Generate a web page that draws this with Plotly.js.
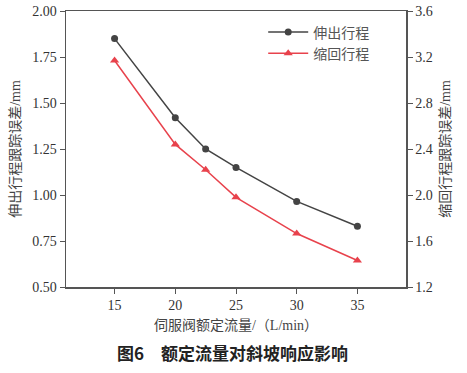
<!DOCTYPE html>
<html><head><meta charset="utf-8">
<script src="https://cdn.plot.ly/plotly-3.0.1.min.js"></script>
<style>body{margin:0;background:#fff}#c{width:467px;height:373px}</style>
</head><body><div id="c"></div>
<script>
const flow = [15, 20, 22.5, 25, 30, 35];
const extendErr = [1.85, 1.42, 1.25, 1.15, 0.965, 0.83];
const retractErr = [3.17, 2.44, 2.22, 1.98, 1.665, 1.43];
const xTicks = [15, 20, 25, 30, 35];
const serif = '"Liberation Serif", "Times New Roman", "Noto Sans CJK SC", serif';
const cjk = '"Liberation Serif", "Noto Sans CJK SC", serif';
const axCol = '#555';
const data = [
  {x: flow, y: extendErr, name: '伸出行程', type: 'scatter', mode: 'lines+markers',
   line: {color: '#444444', width: 1.5}, marker: {symbol: 'circle', size: 7, color: '#444444'}, yaxis: 'y'},
  {x: flow, y: retractErr, name: '缩回行程', type: 'scatter', mode: 'lines+markers',
   line: {color: '#e8424c', width: 1.5}, marker: {symbol: 'triangle-up', size: 8, color: '#e8424c'}, yaxis: 'y2'}
];
const layout = {
  width: 467, height: 373,
  margin: {l: 66, r: 61, t: 11, b: 86},
  paper_bgcolor: '#fff', plot_bgcolor: '#fff',
  showlegend: true,
  legend: {x: 0.58, y: 0.98, xanchor: 'left', yanchor: 'top', bgcolor: 'rgba(0,0,0,0)', itemwidth: 40,
           font: {family: '"Noto Sans CJK SC", sans-serif', size: 14, color: '#555'}, tracegroupgap: 2},
  xaxis: {range: [11, 39], tickvals: xTicks, ticks: 'outside', ticklen: 5, tickcolor: axCol,
          showline: true, linecolor: axCol, linewidth: 1.5, mirror: true, showgrid: false, zeroline: false,
          tickfont: {family: serif, size: 14, color: '#333'},
          title: {text: '伺服阀额定流量/（L/min）', font: {family: cjk, size: 14, color: '#444'}, standoff: 8}},
  yaxis: {range: [0.5, 2.0], dtick: 0.25, tickformat: '.2f', ticks: 'outside', ticklen: 5, tickcolor: axCol,
          showline: true, linecolor: axCol, linewidth: 1.5, showgrid: false, zeroline: false,
          tickfont: {family: serif, size: 14, color: '#333'},
          title: {text: '伸出行程跟踪误差/mm', font: {family: cjk, size: 14, color: '#444'}, standoff: 8}},
  yaxis2: {range: [1.2, 3.6], dtick: 0.4, tickformat: '.1f', overlaying: 'y', side: 'right',
           ticks: 'outside', ticklen: 5, tickcolor: axCol,
           showline: true, linecolor: axCol, linewidth: 1.5, showgrid: false, zeroline: false,
           tickfont: {family: serif, size: 14, color: '#333'},
           title: {text: '缩回行程跟踪误差/mm', font: {family: cjk, size: 14, color: '#444'}, standoff: 8}},
  annotations: [{text: '<b>图6　额定流量对斜坡响应影响</b>', xref: 'paper', yref: 'paper',
                 x: 0.49, y: -0.239, xanchor: 'center', yanchor: 'middle', showarrow: false,
                 font: {family: '"Noto Sans CJK SC", sans-serif', size: 17, color: '#222'}}]
};
Plotly.newPlot('c', data, layout, {displayModeBar: false, staticPlot: true});
</script></body></html>
